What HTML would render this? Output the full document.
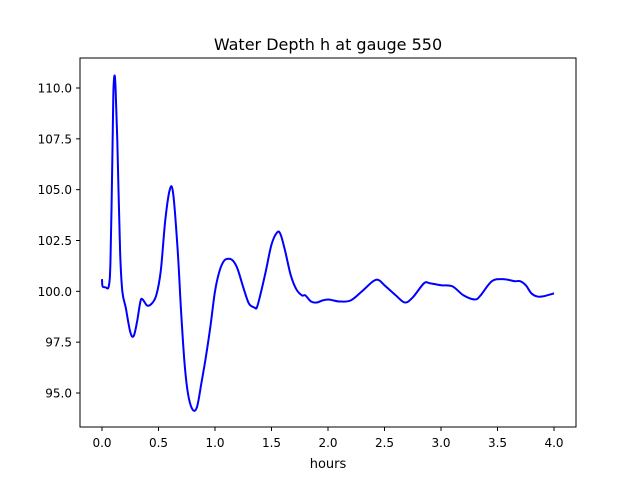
<!DOCTYPE html>
<html><head><meta charset="utf-8"><style>
body{margin:0;background:#fff}
svg text{font-family:"DejaVu Sans","Liberation Sans",sans-serif;fill:#000}
</style></head><body>
<svg id="chart" width="640" height="480">
<rect width="640" height="480" fill="#fff"/>
<text x="328" y="50" font-size="16" text-anchor="middle">Water Depth h at gauge 550</text>
<g id="ticks"></g>
<path id="line" fill="none" stroke="#0000ff" stroke-width="2"/>
<rect x="80" y="58" width="496" height="369" fill="none" stroke="#000" stroke-width="1"/>
<text x="328" y="468" font-size="13" text-anchor="middle">hours</text>
</svg>
<script>
const times=[0,0.005,0.03,0.06,0.075,0.09,0.1,0.11,0.12,0.135,0.16,0.18,0.21,0.25,0.28,0.31,0.34,0.36,0.4,0.44,0.48,0.52,0.56,0.6,0.63,0.67,0.7,0.73,0.76,0.8,0.84,0.88,0.92,0.96,1.0,1.04,1.08,1.12,1.16,1.2,1.25,1.3,1.35,1.37,1.4,1.45,1.5,1.55,1.58,1.62,1.67,1.72,1.77,1.8,1.85,1.9,1.95,2.0,2.05,2.1,2.2,2.3,2.4,2.45,2.5,2.6,2.68,2.75,2.85,2.9,3.0,3.1,3.2,3.3,3.35,3.45,3.55,3.65,3.7,3.75,3.8,3.85,3.9,4.0];
const depths=[100.6,100.25,100.2,100.25,101.5,106,109.6,110.6,110,107.5,102,100,99.2,98,97.8,98.5,99.5,99.6,99.3,99.4,99.8,101,103.5,105,104.8,102,99,96.5,95,94.2,94.3,95.5,96.8,98.3,100,101,101.5,101.6,101.5,101.1,100.2,99.4,99.2,99.2,99.8,101,102.3,102.9,102.8,102,100.8,100.1,99.8,99.8,99.5,99.45,99.55,99.6,99.55,99.5,99.55,100,100.5,100.55,100.3,99.8,99.45,99.7,100.4,100.4,100.3,100.25,99.8,99.6,99.8,100.5,100.6,100.5,100.5,100.3,99.9,99.75,99.75,99.9];
const xTicks=[0,0.5,1,1.5,2,2.5,3,3.5,4];
const yTicks=[95,97.5,100,102.5,105,107.5,110];
const X=t=>102+t*113;
const Y=v=>88+(110-v)*(305/15);
const ns='http://www.w3.org/2000/svg';
const g=document.getElementById('ticks');
function mk(tag,attrs,txt){const e=document.createElementNS(ns,tag);for(const k in attrs)e.setAttribute(k,attrs[k]);if(txt!==undefined)e.textContent=txt;g.appendChild(e);return e;}
xTicks.forEach(t=>{
  const l=mk('line',{x1:X(t),x2:X(t),y1:427,y2:431,stroke:'#000'});
  
  
  const s=mk('text',{x:X(t),y:447,'font-size':12,'text-anchor':'middle'},t.toFixed(1));
  
  
});
yTicks.forEach(v=>{
  const l=mk('line',{x1:76,x2:80,y1:Y(v),y2:Y(v),stroke:'#000'});
  
  
  const s=mk('text',{x:72,y:Y(v)+4.5,'font-size':12,'text-anchor':'end'},v.toFixed(1));
  
  
});
const P=times.map((t,i)=>[X(t),Y(depths[i])]);
let d='M'+P[0][0]+','+P[0][1];
for(let i=0;i<P.length-1;i++){
  const p0=P[Math.max(0,i-1)],p1=P[i],p2=P[i+1],p3=P[Math.min(P.length-1,i+2)];
  const c1=[p1[0]+(p2[0]-p0[0])/6,p1[1]+(p2[1]-p0[1])/6];
  const c2=[p2[0]-(p3[0]-p1[0])/6,p2[1]-(p3[1]-p1[1])/6];
  d+=` C${c1[0]},${c1[1]} ${c2[0]},${c2[1]} ${p2[0]},${p2[1]}`;
}
document.getElementById('line').setAttribute('d',d);
</script>
</body></html>
